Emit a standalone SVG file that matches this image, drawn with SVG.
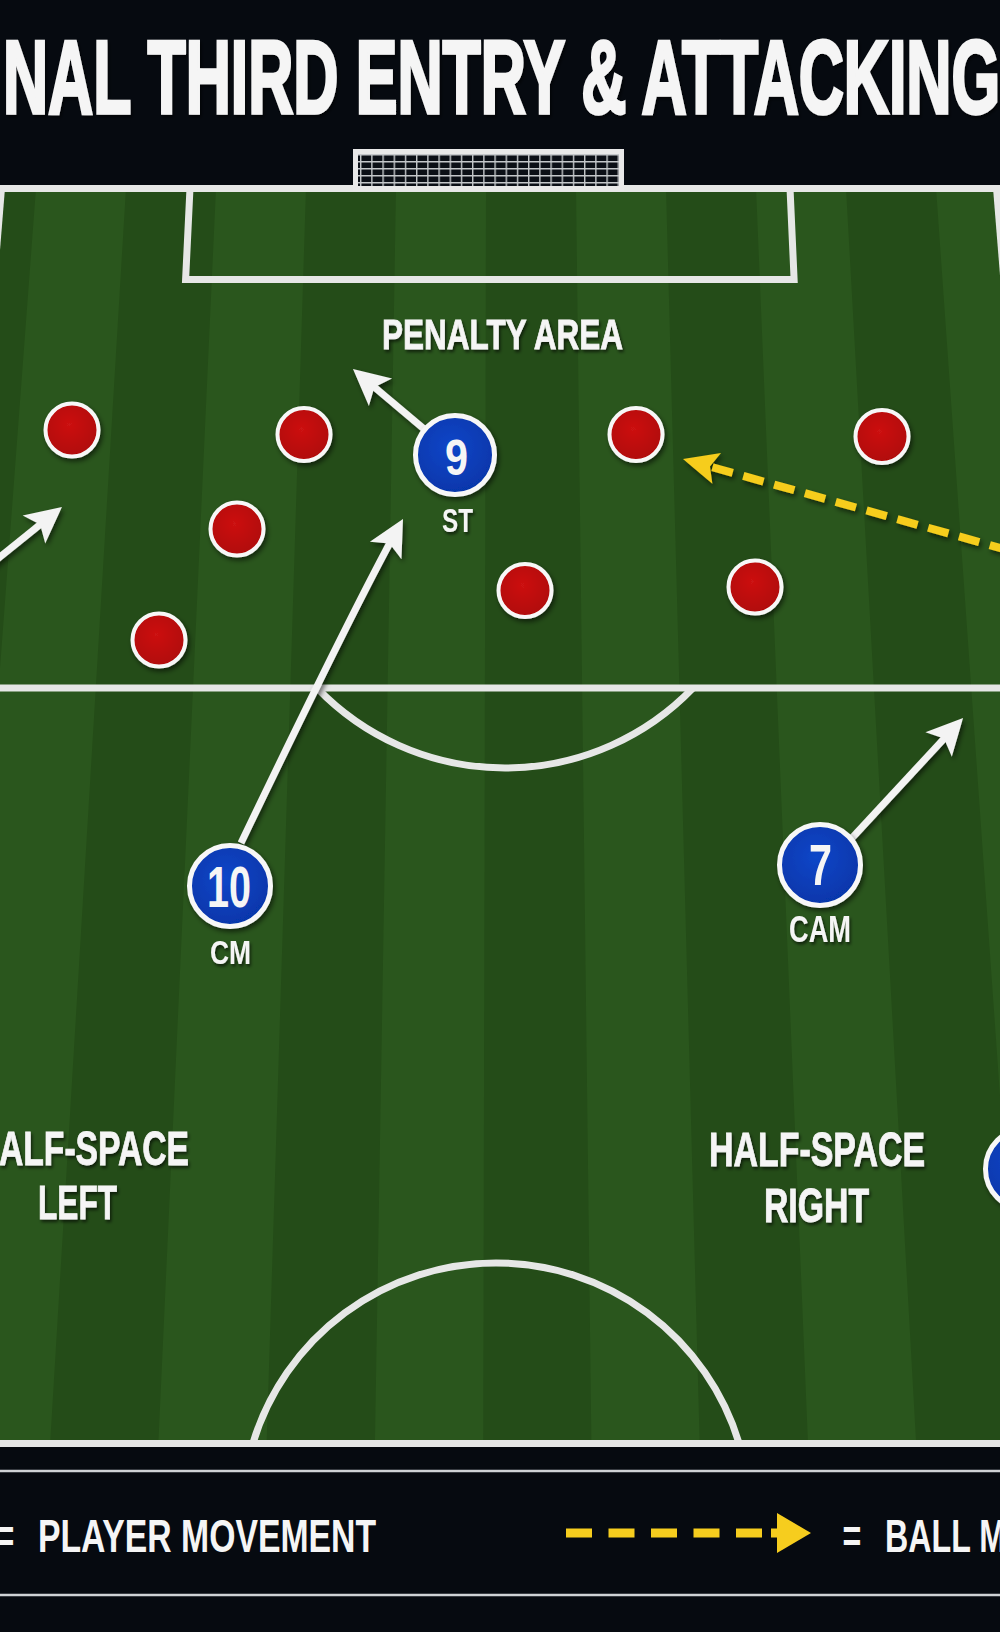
<svg xmlns="http://www.w3.org/2000/svg" width="1000" height="1632" viewBox="0 0 1000 1632">
<defs>
<style>
.t{font-family:"Liberation Sans",Arial,sans-serif;font-weight:700;fill:#f5f5f5}
.ln{fill:none;stroke:#e6e7e6;stroke-width:7}
.mv{fill:none;stroke:#f3f3f3;stroke-width:7;marker-end:url(#ah)}
.red{fill:url(#rg);stroke:#f7f7f7;stroke-width:4}
.blue{fill:url(#bg);stroke:#f7f7f7;stroke-width:5}
.dk{fill:#244c18}
</style>
<radialGradient id="rg" cx="45%" cy="40%" r="60%"><stop offset="0" stop-color="#cc1212"/><stop offset="1" stop-color="#b00606"/></radialGradient>
<radialGradient id="bg" cx="45%" cy="40%" r="60%"><stop offset="0" stop-color="#0d46c8"/><stop offset="1" stop-color="#0636aa"/></radialGradient>
<filter id="sh" x="-40%" y="-40%" width="180%" height="180%"><feDropShadow dx="2" dy="3" stdDeviation="2.5" flood-color="#000" flood-opacity="0.55"/></filter>
<filter id="ts" x="-20%" y="-30%" width="140%" height="160%"><feDropShadow dx="1.5" dy="2.5" stdDeviation="1.5" flood-color="#000" flood-opacity="0.6"/></filter>
<marker id="ah" viewBox="0 0 40 40" refX="22" refY="20" markerWidth="40" markerHeight="40" markerUnits="userSpaceOnUse" orient="auto"><path d="M38,20 L2,2 L10,20 L2,38 Z" fill="#f3f3f3"/></marker>
<marker id="ya" viewBox="0 0 40 40" refX="22" refY="20" markerWidth="40" markerHeight="40" markerUnits="userSpaceOnUse" orient="auto"><path d="M38,20 L3,4 L10,20 L3,36 Z" fill="#f6cd1e"/></marker>
<pattern id="net" x="360" y="154" width="11.2" height="7" patternUnits="userSpaceOnUse"><rect width="11.2" height="7" fill="#0b0f16"/><path d="M0.7,0 V7 M0,0.7 H11.2" stroke="#c4c7ca" stroke-width="1.4"/></pattern>
</defs>

<rect x="0" y="0" width="1000" height="1632" fill="#060a10"/>

<g id="title">
<text class="t" x="3" y="113" font-size="104" textLength="997" lengthAdjust="spacingAndGlyphs" stroke="#f5f5f5" stroke-width="3.5" filter="url(#ts)">NAL THIRD ENTRY &amp; ATTACKING</text>
</g>

<g id="pitch">
<rect x="0" y="188" width="1000" height="1256" fill="#2a561d"/>
<polygon class="dk" points="-54,188 36,188 -58.2,1444 -166.5,1444"/>
<polygon class="dk" points="126,188 216,188 158.3,1444 50.1,1444"/>
<polygon class="dk" points="306,188 396,188 374.9,1444 266.6,1444"/>
<polygon class="dk" points="486,188 576,188 591.4,1444 483.2,1444"/>
<polygon class="dk" points="666,188 756,188 808,1444 699.7,1444"/>
<polygon class="dk" points="846,188 936,188 1024.5,1444 916.2,1444"/>
<g id="lines">
<line class="ln" x1="0" y1="188.5" x2="1000" y2="188.5"/>
<line class="ln" x1="1.5" y1="188" x2="-99.7" y2="1444"/>
<line class="ln" x1="996.5" y1="188" x2="1097.3" y2="1444"/>
<path class="ln" d="M190,188 L185.6,279.5 L794.1,279.5 L790,188"/>
<line class="ln" x1="0" y1="688" x2="1000" y2="688"/>
<path class="ln" d="M317,688 A261,261 0 0 0 693,688"/>
<line class="ln" x1="0" y1="1443.5" x2="1000" y2="1443.5"/>
<path class="ln" d="M253,1443 A254,254 0 0 1 739,1443"/>
</g>
</g>

<g id="goal">
<rect x="355.5" y="151.5" width="266" height="37" fill="url(#net)" stroke="#e8e8e8" stroke-width="5"/>
</g>

<g id="zone-labels" filter="url(#ts)">
<text class="t" x="382" y="349" font-size="43" textLength="241" lengthAdjust="spacingAndGlyphs" stroke="#f5f5f5" stroke-width="0.8">PENALTY AREA</text>
<text class="t" x="-1" y="1165" font-size="48" textLength="190" lengthAdjust="spacingAndGlyphs" stroke="#f5f5f5" stroke-width="0.8">ALF-SPACE</text>
<text class="t" x="38" y="1219" font-size="48" textLength="79" lengthAdjust="spacingAndGlyphs" stroke="#f5f5f5" stroke-width="0.8">LEFT</text>
<text class="t" x="709" y="1166" font-size="48" textLength="216" lengthAdjust="spacingAndGlyphs" stroke="#f5f5f5" stroke-width="0.8">HALF-SPACE</text>
<text class="t" x="764" y="1222" font-size="48" textLength="105" lengthAdjust="spacingAndGlyphs" stroke="#f5f5f5" stroke-width="0.8">RIGHT</text>
</g>

<g id="connectors" filter="url(#sh)">
<path class="mv" d="M-20,573 L49.5,517"/>
<path class="mv" d="M430,434 L365.2,379.4"/>
<path class="mv" d="M241,843 Q351.4,613 395.3,533"/>
<path class="mv" d="M852,838 L952.2,729.8"/>
<path d="M1010,550.7 L698.4,463.3" fill="none" stroke="#f6cd1e" stroke-width="8" stroke-dasharray="21 11" marker-end="url(#ya)"/>
</g>

<g id="defenders" filter="url(#sh)">
<circle id="d1" class="red" cx="72" cy="430" r="26.5"/>
<circle id="d2" class="red" cx="304" cy="434.5" r="26.5"/>
<circle id="d3" class="red" cx="237" cy="529" r="26.5"/>
<circle id="d4" class="red" cx="159" cy="640" r="26.5"/>
<circle id="d5" class="red" cx="636" cy="434.5" r="26.5"/>
<circle id="d6" class="red" cx="882" cy="436.5" r="26.5"/>
<circle id="d7" class="red" cx="525" cy="590.5" r="26.5"/>
<circle id="d8" class="red" cx="755" cy="587" r="26.5"/>
</g>

<g id="p9">
<circle class="blue" cx="455" cy="455" r="39.5" filter="url(#sh)"/>
<text class="t" x="445" y="475" font-size="50" textLength="23" lengthAdjust="spacingAndGlyphs">9</text>
<text class="t" x="442" y="532" font-size="33" textLength="31" lengthAdjust="spacingAndGlyphs" filter="url(#ts)">ST</text>
</g>

<g id="p10">
<circle class="blue" cx="230" cy="886" r="40.5" filter="url(#sh)"/>
<text class="t" x="207" y="907" font-size="57" textLength="44" lengthAdjust="spacingAndGlyphs">10</text>
<text class="t" x="210" y="964" font-size="33.5" textLength="41" lengthAdjust="spacingAndGlyphs" filter="url(#ts)">CM</text>
</g>

<g id="p7">
<circle class="blue" cx="820" cy="865" r="40.5" filter="url(#sh)"/>
<text class="t" x="809" y="885" font-size="57" textLength="23" lengthAdjust="spacingAndGlyphs">7</text>
<text class="t" x="789" y="942" font-size="36" textLength="62" lengthAdjust="spacingAndGlyphs" filter="url(#ts)">CAM</text>
</g>

<g id="p-right">
<circle class="blue" cx="1026" cy="1169" r="40.5" filter="url(#sh)"/>
</g>

<g id="legend">
<line x1="0" y1="1471" x2="1000" y2="1471" stroke="#cfd2d5" stroke-width="2.5"/>
<line x1="0" y1="1595" x2="1000" y2="1595" stroke="#cfd2d5" stroke-width="2.5"/>
<text class="t" x="-4.4" y="1552" font-size="47" textLength="18.8" lengthAdjust="spacingAndGlyphs">=</text>
<text class="t" x="38" y="1552" font-size="47" textLength="338" lengthAdjust="spacingAndGlyphs">PLAYER MOVEMENT</text>
<line x1="566" y1="1533" x2="764" y2="1533" stroke="#f6cd1e" stroke-width="9" stroke-dasharray="26 16.5"/>
<rect x="771" y="1528.5" width="8" height="9" fill="#f6cd1e"/>
<polygon points="777,1513 811,1533 777,1553" fill="#f6cd1e"/>
<text class="t" x="842.5" y="1552" font-size="47" textLength="18.8" lengthAdjust="spacingAndGlyphs">=</text>
<text class="t" x="885" y="1552" font-size="47" textLength="121" lengthAdjust="spacingAndGlyphs">BALL M</text>
</g>
</svg>
